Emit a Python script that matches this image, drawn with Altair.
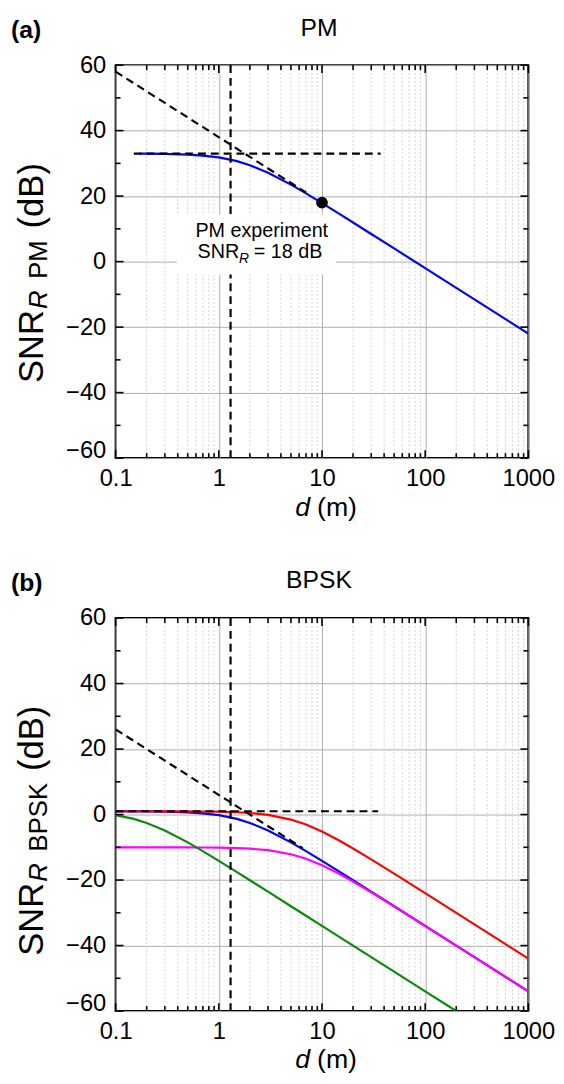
import altair as alt
import pandas as pd

W, H = 418, 398
FONT = "Liberation Sans"

# ---------------- data ----------------
# Panel (a) PM
d_pm = [0.17, 0.2, 0.3, 0.5, 0.7, 1, 1.5, 2, 3, 5, 7, 10, 15, 20, 30, 50, 100, 200, 500, 1000]
snr_pm = [32.96, 32.95, 32.88, 32.67, 32.38, 31.81, 30.67, 29.45, 27.15, 23.5, 20.83, 17.86,
          14.42, 11.94, 8.44, 4.02, -2.0, -8.02, -15.98, -22.0]
pm_slant_d = [0.1, 7]
pm_slant_snr = [58, 21.1]
pm_flat_d = [0.15, 37]
pm_flat_snr = [33, 33]
pm_vert_d = [1.3, 1.3]
pm_vert_snr = [-60, 60]
pm_exp_d = [10]
pm_exp_snr = [18]

# Panel (b) BPSK
d_b = [0.1, 0.2, 0.3, 0.5, 0.7, 1, 1.5, 2, 3, 5, 7, 10, 15, 20, 30, 50, 100, 200, 500, 1000]
snr_blue = [0.99, 0.95, 0.88, 0.67, 0.38, -0.19, -1.33, -2.55, -4.85, -8.50, -11.17, -14.13,
            -17.58, -20.06, -23.56, -27.99, -34.0, -40.02, -47.98, -54.0]
snr_red = [1.0, 1.0, 0.99, 0.97, 0.93, 0.87, 0.70, 0.48, -0.09, -1.53, -3.06, -5.19,
           -8.09, -10.35, -13.69, -18.03, -24.01, -30.02, -37.98, -44.0]
snr_magenta = [-10.0, -10.0, -10.01, -10.03, -10.05, -10.11, -10.24, -10.41, -10.88, -12.12,
               -13.48, -15.46, -18.23, -20.43, -23.73, -28.05, -34.02, -40.02, -47.98, -54.0]
d_green = [0.1, 0.15, 0.2, 0.3, 0.5, 0.7, 1, 1.5, 2, 3, 5, 7, 10, 20, 50, 100, 200]
snr_green = [-0.19, -1.33, -2.55, -4.85, -8.50, -11.17, -14.13, -17.58, -20.06, -23.56,
             -27.99, -30.9, -34.0, -40.02, -47.98, -54.0, -60.0]
b_slant_d = [0.1, 6.5]
b_slant_snr = [26, -10.26]
b_flat_d = [0.1, 35]
b_flat_snr = [1, 1]
b_vert_d = [1.3, 1.3]
b_vert_snr = [-60, 60]

# ticks
x_major = [0.1, 1, 10, 100, 1000]
x_minor = [0.2, 0.3, 0.4, 0.5, 0.6, 0.7, 0.8, 0.9,
           2, 3, 4, 5, 6, 7, 8, 9,
           20, 30, 40, 50, 60, 70, 80, 90,
           200, 300, 400, 500, 600, 700, 800, 900]
y_major = [-60, -40, -20, 0, 20, 40, 60]
y_minor = [-50, -30, -10, 10, 30, 50]

# ---------------- helpers ----------------
xscale = alt.Scale(type="log", domain=[0.1, 1000], nice=False)
yscale = alt.Scale(domain=[-60, 60], nice=False)

xaxis = alt.Axis(values=x_major, format="~g", labelFont=FONT, labelFontSize=24,
                 labelColor="black", labelPadding=9, labelFlush=False, labelOverlap=False,
                 ticks=False, domain=False, grid=True, gridColor="#adadad", gridWidth=1,
                 title=None)
yaxis = alt.Axis(values=y_major, format="d", labelFont=FONT, labelFontSize=24,
                 labelColor="black", labelPadding=10, labelFlush=False, labelOverlap=False,
                 labelOffset={"expr": "datum.value == -60 ? -8 : 0"},
                 ticks=False, domain=False, grid=True, gridColor="#adadad", gridWidth=1,
                 title=None)

one = pd.DataFrame({"k": [0]})


def X(field="d"):
    return alt.X(f"{field}:Q", scale=xscale, axis=xaxis)


def Y(field="s"):
    return alt.Y(f"{field}:Q", scale=yscale, axis=yaxis)


def curve(ds, ss, color, width=2.2, dash=None):
    df = pd.DataFrame({"d": ds, "s": ss})
    kw = dict(color=color, strokeWidth=width, clip=True)
    if dash:
        kw["strokeDash"] = dash
    return alt.Chart(df).mark_line(**kw).encode(x=X(), y=Y(), order="d:Q")


def txt(text, x, y, size, angle=0, align="left", baseline="alphabetic", style="normal",
        weight="normal"):
    return alt.Chart(one).mark_text(text=text, font=FONT, fontSize=size, angle=angle,
                                    align=align, baseline=baseline, fontStyle=style,
                                    fontWeight=weight, color="black").encode(
        x=alt.value(x), y=alt.value(y))


def frame_layers():
    dxm = pd.DataFrame({"d": x_major})
    dxn = pd.DataFrame({"d": x_minor})
    dym = pd.DataFrame({"s": y_major})
    dyn = pd.DataFrame({"s": y_minor})
    tk = dict(color="black", strokeWidth=1.6)
    return [
        alt.Chart(dxm).mark_rule(**tk).encode(x=X(), y=alt.value(H), y2=alt.value(H - 8)),
        alt.Chart(dxm).mark_rule(**tk).encode(x=X(), y=alt.value(0), y2=alt.value(8)),
        alt.Chart(dxn).mark_rule(**tk).encode(x=X(), y=alt.value(H), y2=alt.value(H - 5)),
        alt.Chart(dxn).mark_rule(**tk).encode(x=X(), y=alt.value(0), y2=alt.value(5)),
        alt.Chart(dym).mark_rule(**tk).encode(y=Y(), x=alt.value(0), x2=alt.value(8)),
        alt.Chart(dym).mark_rule(**tk).encode(y=Y(), x=alt.value(W), x2=alt.value(W - 8)),
        alt.Chart(dyn).mark_rule(**tk).encode(y=Y(), x=alt.value(0), x2=alt.value(5)),
        alt.Chart(dyn).mark_rule(**tk).encode(y=Y(), x=alt.value(W), x2=alt.value(W - 5)),
    ]


def minor_grid():
    dxn = pd.DataFrame({"d": x_minor})
    return alt.Chart(dxn).mark_rule(color="#d2d2d2", strokeDash=[2, 2], strokeWidth=1).encode(
        x=X(), y=alt.value(0), y2=alt.value(H))


def labels(tag, title, sub, sub_len, start, xbase):
    # y title pieces laid out bottom-to-top: SNR, R (italic), sub, (dB)
    big, small = 35, 26
    y_snr = start
    y_r = y_snr - 2.111 * big - 1
    y_sub = y_r - 0.722 * small - 12
    y_db = y_sub - sub_len * small - 12
    return [
        txt(tag, -106, -27, 25, weight="bold"),
        txt(title, 206, -30, 25, align="center"),
        txt("SNR", -74, y_snr, big, angle=270),
        txt("R", -69, y_r, small, angle=270, style="italic"),
        txt(sub, -69, y_sub, small, angle=270),
        txt("(dB)", -74, y_db, big, angle=270),
        # x title: d (m)
        txt("d", 182, xbase, 27, style="italic"),
        txt("(m)", 204, xbase, 27),
    ]


DASH = [8, 5]
DW = 2.2

# ---------------- panel (a) ----------------
box = alt.Chart(one).mark_rect(color="white").encode(
    x=alt.value(62), x2=alt.value(223), y=alt.value(151), y2=alt.value(212))
annot = [
    box,
    txt("PM experiment", 148, 174, 20, align="center"),
    txt("SNR", 83, 195, 20),
    txt("R", 125, 200, 14, style="italic"),
    txt("= 18 dB", 140, 195, 20),
]
dot = alt.Chart(pd.DataFrame({"d": pm_exp_d, "s": pm_exp_snr})).mark_point(
    filled=True, color="black", size=140, opacity=1).encode(x=X(), y=Y())

pa = alt.layer(
    minor_grid(),
    curve(d_pm, snr_pm, "#0000ff"),
    curve(pm_slant_d, pm_slant_snr, "black", DW, DASH),
    curve(pm_flat_d, pm_flat_snr, "black", DW, DASH),
    curve(pm_vert_d, pm_vert_snr, "black", DW, DASH),
    *annot,
    dot,
    *frame_layers(),
    *labels("(a)", "PM", "PM", 1.5, 322, 457),
).properties(width=W, height=H)

# ---------------- panel (b) ----------------
pb = alt.layer(
    minor_grid(),
    curve(d_b, snr_blue, "#0000ff"),
    curve(d_b, snr_red, "#ff0000"),
    curve(d_b, snr_magenta, "#ff00ff"),
    curve(d_green, snr_green, "#0a8a0a"),
    curve(b_slant_d, b_slant_snr, "black", DW, DASH),
    curve(b_flat_d, b_flat_snr, "black", DW, DASH),
    curve(b_vert_d, b_vert_snr, "black", DW, DASH),
    *frame_layers(),
    *labels("(b)", "BPSK", "BPSK", 2.668, 342, 456),
).properties(width=W, height=H)

chart = alt.vconcat(pa, pb, spacing=46).properties(
    padding={"left": 2, "top": 0, "right": 0, "bottom": 0}
).configure_view(stroke="black", strokeWidth=2)

chart.save("out.html", embed_options={"renderer": "svg", "actions": False})
